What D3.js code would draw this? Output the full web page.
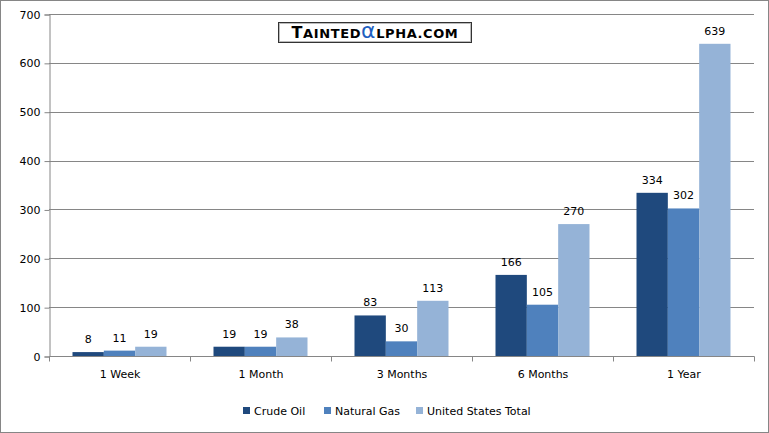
<!DOCTYPE html>
<html>
<head>
<meta charset="utf-8">
<script src="https://cdn.jsdelivr.net/npm/d3@7"></script>
<style>
  body { margin: 0; background: #fff; }
  text { font-family: "DejaVu Sans", Verdana, sans-serif; font-size: 11px; fill: #000; }
</style>
</head>
<body>
<div class="plot"></div>
<script>
var periods = ["1 Week", "1 Month", "3 Months", "6 Months", "1 Year"];
var seriesNames = ["Crude Oil", "Natural Gas", "United States Total"];
var crudeOil = [8, 19, 83, 166, 334];
var naturalGas = [11, 19, 30, 105, 302];
var usTotal = [19, 38, 113, 270, 639];
var yTicks = [0, 100, 200, 300, 400, 500, 600, 700];
var colors = ["#1f497d", "#4f81bd", "#95b3d7"];

var width = 769, height = 433;
var series = [crudeOil, naturalGas, usTotal];

var svg = d3.select(".plot").append("svg")
    .attr("width", width)
    .attr("height", height);

// outer border
svg.append("rect")
    .attr("x", 0.5).attr("y", 0.5)
    .attr("width", width - 1).attr("height", height - 1)
    .attr("fill", "#fff").attr("stroke", "#868686");

var x0 = d3.scaleBand().domain(periods).range([49, 754]);
var x1 = d3.scaleBand().domain(d3.range(3))
    .range([0, x0.bandwidth()]).paddingOuter(0.75).paddingInner(0);
var y = d3.scaleLinear().domain([0, 700]).range([356, 14]);

// gridlines
svg.append("g").selectAll("line")
    .data(yTicks.slice(1))
  .enter().append("line")
    .attr("x1", 49).attr("x2", 754)
    .attr("y1", function(d) { return Math.round(y(d)) + 0.5; })
    .attr("y2", function(d) { return Math.round(y(d)) + 0.5; })
    .attr("stroke", "#868686");

// y axis
var yAxis = svg.append("g")
    .attr("transform", "translate(49.5,0.5)")
    .call(d3.axisLeft(y).tickValues(yTicks).tickSize(5).tickPadding(4));
yAxis.select(".domain").attr("stroke", "#868686");
yAxis.selectAll("line").attr("stroke", "#868686");
yAxis.selectAll("text").style("font-size", "11px").attr("fill", "#000");

// bars
var group = svg.selectAll(".group")
    .data(periods)
  .enter().append("g")
    .attr("class", "group")
    .attr("transform", function(d) { return "translate(" + x0(d) + ",0)"; });

group.selectAll("rect")
    .data(function(d, i) { return series.map(function(s, j) { return {j: j, v: s[i]}; }); })
  .enter().append("rect")
    .attr("x", function(d) { return x1(d.j); })
    .attr("width", x1.bandwidth())
    .attr("y", function(d) { return y(d.v); })
    .attr("height", function(d) { return y(0) - y(d.v); })
    .attr("fill", function(d) { return colors[d.j]; });

group.selectAll(".lbl")
    .data(function(d, i) { return series.map(function(s, j) { return {j: j, v: s[i]}; }); })
  .enter().append("text")
    .attr("class", "lbl")
    .attr("x", function(d) { return x1(d.j) + x1.bandwidth() / 2; })
    .attr("y", function(d) { return y(d.v) - 9; })
    .attr("text-anchor", "middle")
    .text(function(d) { return d.v; });

// x axis
var xAxis = svg.append("g")
    .attr("transform", "translate(0.5,356.5)");
xAxis.append("line").attr("x1", 49).attr("x2", 754).attr("stroke", "#868686");
xAxis.selectAll(".tk")
    .data(periods.concat(["end"]))
  .enter().append("line")
    .attr("x1", function(d, i) { return 49 + i * x0.step(); })
    .attr("x2", function(d, i) { return 49 + i * x0.step(); })
    .attr("y1", 0).attr("y2", 5)
    .attr("stroke", "#868686");
xAxis.selectAll(".xl")
    .data(periods)
  .enter().append("text")
    .attr("x", function(d) { return x0(d) + x0.bandwidth() / 2; })
    .attr("y", 21)
    .attr("text-anchor", "middle")
    .text(function(d) { return d; });

// legend
var legX = [243, 324, 416];
var leg = svg.selectAll(".leg")
    .data(seriesNames)
  .enter().append("g")
    .attr("transform", function(d, i) { return "translate(" + legX[i] + ",407)"; });
leg.append("rect").attr("width", 7).attr("height", 7)
    .attr("fill", function(d, i) { return colors[i]; });
leg.append("text").attr("x", 11).attr("y", 7.5).text(function(d) { return d; });

// logo
var logo = svg.append("g").attr("transform", "translate(278,22)");
logo.append("rect").attr("x", 0.5).attr("y", 0.5).attr("width", 193).attr("height", 20)
    .attr("fill", "#fff").attr("stroke", "#333");
logo.append("rect").attr("x", 1.5).attr("y", 1.5).attr("width", 191).attr("height", 18)
    .attr("fill", "none").attr("stroke", "#bbb");
var lt = logo.append("text").attr("x", 97).attr("y", 16).attr("text-anchor", "middle")
    .style("font-family", "'DejaVu Sans', Verdana, sans-serif").style("font-weight", "bold")
    .style("letter-spacing", "0.6px");
lt.append("tspan").style("font-size", "16px").text("T");
lt.append("tspan").style("font-size", "13px").text("AINTED");
lt.append("tspan").style("font-size", "22px").style("font-weight", "normal").attr("fill", "#1f5fbf").text("α");
lt.append("tspan").style("font-size", "13px").text("LPHA.COM");
</script>
</body>
</html>
